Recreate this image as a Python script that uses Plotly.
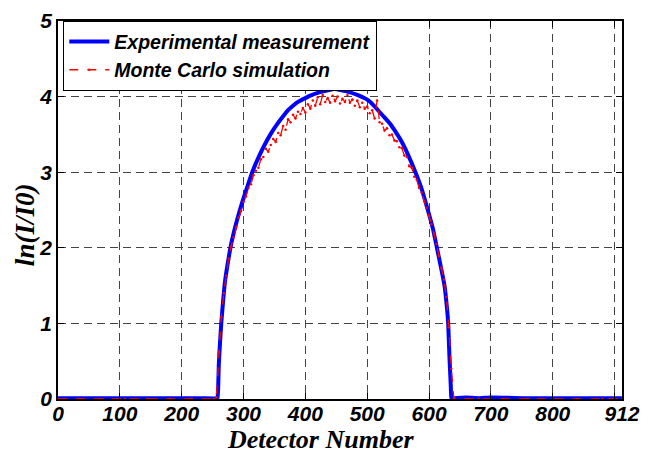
import plotly.graph_objects as go

# Experimental measurement (blue) - detector number / ln(I/I0)
exp_x = [0, 60, 120, 180, 230, 257, 258, 259, 260, 262, 264, 267, 270, 275, 280, 290, 299, 307, 315,
         325, 334, 345, 353, 365, 372, 380, 388, 395, 407, 420, 435, 447, 460, 471, 485, 498, 505,
         512, 525, 537, 547, 556, 565, 578, 588, 598, 606, 613, 619, 625, 629, 631, 633, 635, 636,
         637, 660, 680, 700, 760, 820, 880, 912]
exp_y = [0.01, 0.01, 0.01, 0.01, 0.01, 0.01, 0.02, 0.15, 0.45, 0.75, 1.00, 1.30, 1.55, 1.82, 2.05, 2.38,
         2.63, 2.83, 3.02, 3.21, 3.36, 3.52, 3.62, 3.75, 3.82, 3.88, 3.93, 3.96, 4.01, 4.05, 4.08,
         4.10, 4.08, 4.06, 4.02, 3.97, 3.93, 3.87, 3.75, 3.64, 3.52, 3.40, 3.25, 3.00, 2.78, 2.50,
         2.26, 1.99, 1.75, 1.50, 1.20, 0.99, 0.55, 0.20, 0.02, 0.01, 0.02, 0.01, 0.02, 0.01, 0.01,
         0.01, 0.01]

# Monte Carlo simulation (red)
mc_x = [0, 36, 72, 108, 144, 180, 216, 252,
        256, 260, 264, 268, 272, 276, 280, 284, 288, 292, 296, 300, 304, 308, 312, 316, 320,
        324, 328, 332, 336, 340, 344, 348, 352, 356, 360, 364, 368, 372, 376, 380, 384, 388,
        392, 396, 400, 404, 408, 412, 416, 420, 424, 428, 432, 436, 440, 444, 448, 452, 456,
        460, 464, 468, 472, 476, 480, 484, 488, 492, 496, 500, 504, 508, 512, 516, 520, 524,
        528, 532, 536, 540, 544, 548, 552, 556, 560, 564, 568, 572, 576, 580, 584, 588, 592,
        596, 600, 604, 608, 612, 616, 620, 624, 628, 632, 636, 640,
        680, 720, 760, 800, 840, 880, 912]
mc_y = [0.0, 0.0, 0.0, 0.0, 0.0, 0.0, 0.0, 0.0,
        0.02, 0.62, 1.08, 1.40, 1.63, 1.86, 2.02, 2.14, 2.27, 2.40, 2.49, 2.61, 2.68, 2.79, 2.84,
        2.96, 3.02, 3.06, 3.17, 3.20, 3.31, 3.27, 3.36, 3.44, 3.40, 3.52, 3.49, 3.61, 3.56, 3.70,
        3.66, 3.76, 3.71, 3.80, 3.77, 3.85, 3.79, 3.90, 3.84, 3.95, 3.88, 3.99, 3.90, 4.02, 3.93,
        3.98, 3.92, 4.01, 3.94, 4.00, 3.91, 3.97, 3.93, 4.02, 3.92, 3.96, 3.88, 3.95, 3.86, 3.92,
        3.84, 3.87, 3.78, 3.82, 3.71, 3.95, 3.66, 3.64, 3.55, 3.58, 3.49, 3.50, 3.42, 3.41, 3.33,
        3.32, 3.22, 3.20, 3.08, 3.06, 2.94, 2.90, 2.79, 2.73, 2.62, 2.53, 2.42, 2.31, 2.19, 2.05,
        1.89, 1.73, 1.58, 1.35, 0.95, 0.40, 0.01,
        0.0, 0.0, 0.0, 0.0, 0.0, 0.0, 0.0]

x_tickvals = [0, 100, 200, 300, 400, 500, 600, 700, 800, 900, 912]
x_ticktext = ["0", "100", "200", "300", "400", "500", "600", "700", "800", "", "912"]
y_tickvals = [0, 1, 2, 3, 4, 5]

x_title = "Detector Number"
y_title = "ln(I/I0)"

tick_font = dict(family="Liberation Sans, Arial", size=21, color="black", weight="bold", style="italic")
title_font = dict(family="Liberation Serif, Times New Roman", size=26, color="black", weight="bold", style="italic")

fig = go.Figure()
fig.add_trace(go.Scatter(
    x=exp_x, y=exp_y, mode="lines", name="Experimental measurement",
    line=dict(color="#0000ff", width=4, shape="spline", smoothing=0.4)))
fig.add_trace(go.Scatter(
    x=mc_x, y=mc_y, mode="lines+markers", name="Monte Carlo simulation",
    line=dict(color="#ff0000", width=1.3, dash="dash"),
    marker=dict(color="#ff0000", size=2.5)))

axis_common = dict(
    showline=True, linecolor="black", linewidth=1.5, mirror="ticks",
    ticks="inside", ticklen=6, tickcolor="black", tickwidth=1,
    showgrid=True, gridcolor="#444444", griddash="8px,5px", gridwidth=1,
    zeroline=False, tickfont=tick_font, automargin=False, ticklabeloverflow="allow",
)

fig.update_xaxes(range=[0, 912], tickmode="array", tickvals=x_tickvals, ticktext=x_ticktext,
                 ticklabelstandoff=-5, **axis_common)
fig.update_yaxes(range=[0, 5], tickmode="array", tickvals=y_tickvals,
                 ticklabelstandoff=0, **axis_common)

fig.add_annotation(text=x_title, xref="paper", yref="paper", x=0.465, y=-0.106,
                   xanchor="center", yanchor="middle", showarrow=False, font=title_font)
fig.add_annotation(text=y_title, xref="paper", yref="paper", x=-0.0585, y=0.46,
                   xanchor="center", yanchor="middle", showarrow=False, textangle=-90,
                   font=dict(title_font, size=27))

fig.update_layout(
    width=655, height=454,
    margin=dict(l=50, r=41, t=13, b=63),
    paper_bgcolor="white", plot_bgcolor="white",
    showlegend=True,
    legend=dict(
        x=0.009, y=1.0, xanchor="left", yanchor="top",
        bgcolor="white", bordercolor="black", borderwidth=1.2,
        font=dict(family="Liberation Sans, Arial", size=19.5, color="black", weight="bold", style="italic"),
        tracegroupgap=0, itemwidth=40,
    ),
)

fig.write_html("out.html")
